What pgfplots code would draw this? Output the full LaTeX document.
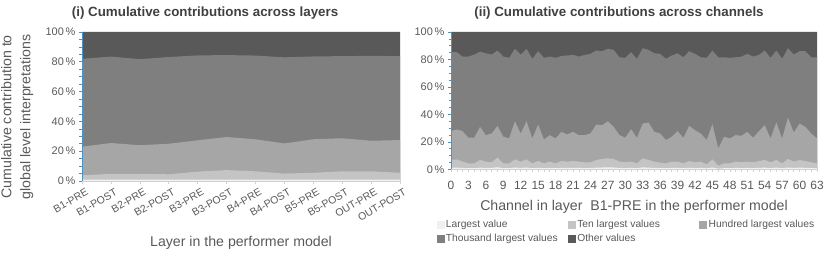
\documentclass[border=0pt]{standalone}
\usepackage{pgfplots}
\pgfplotsset{compat=1.18}
\usepackage{pgfplotstable}
\usepackage{fontspec}
\setmainfont{Liberation Sans}
\definecolor{cL1}{HTML}{F0F0F0}
\definecolor{cL2}{HTML}{C4C4C4}
\definecolor{cL3}{HTML}{A6A6A6}
\definecolor{cL4}{HTML}{7F7F7F}
\definecolor{cL5}{HTML}{595959}
\definecolor{txt}{HTML}{595959}
\definecolor{ttl}{HTML}{404040}
\definecolor{axblue}{HTML}{4F93BF}
\definecolor{tickgray}{HTML}{D0D0D0}

\pgfplotstableread{
x top thou hund ten one
0 100 82.0 23.0 3.8 1.0
1 100 83.5 25.5 4.8 1.0
2 100 81.8 24.0 4.8 1.0
3 100 83.2 25.0 4.5 1.0
4 100 84.3 27.3 6.3 1.0
5 100 84.5 29.5 7.3 1.0
6 100 84.2 28.0 6.5 1.0
7 100 83.0 25.2 5.0 1.0
8 100 83.6 28.0 5.5 1.0
9 100 83.8 28.7 6.5 1.0
10 100 84.0 27.0 6.5 1.0
11 100 83.8 27.5 5.5 1.0
}\layers

\pgfplotstableread{
x top thou hund ten one
0 100 85.3 27.8 6.8 1.2
1 100 85.3 29.0 7.2 1.2
2 100 82.1 27.8 5.6 1.0
3 100 82.1 23.0 4.3 0.8
4 100 83.5 23.0 4.3 0.8
5 100 85.7 30.9 6.8 1.2
6 100 84.5 24.9 5.6 1.0
7 100 83.6 26.1 5.1 1.0
8 100 86.5 31.6 8.5 1.5
9 100 82.1 23.7 4.3 0.8
10 100 81.2 22.5 4.3 0.8
11 100 87.7 35.0 7.2 1.3
12 100 83.6 26.1 5.6 1.0
13 100 87.7 35.0 7.2 1.3
14 100 80.5 22.5 4.3 0.8
15 100 86.0 32.6 6.0 1.1
16 100 81.2 21.7 4.3 0.8
17 100 82.1 24.9 5.6 1.0
18 100 81.2 22.5 4.3 0.8
19 100 82.5 27.3 6.0 1.0
20 100 82.9 25.4 5.6 1.0
21 100 83.3 27.3 6.0 1.0
22 100 82.1 24.9 5.6 1.0
23 100 83.3 24.9 5.1 0.9
24 100 84.1 26.1 5.1 0.9
25 100 86.5 32.6 6.8 1.2
26 100 86.0 32.1 7.5 1.3
27 100 87.7 35.0 8.0 1.4
28 100 87.0 30.9 7.5 1.3
29 100 81.6 24.9 5.6 1.0
30 100 81.2 23.0 5.1 0.9
31 100 85.3 29.2 5.6 1.0
32 100 80.5 22.9 4.3 0.8
33 100 88.2 33.3 8.0 1.4
34 100 87.0 34.1 6.8 1.2
35 100 84.5 27.3 5.6 1.0
36 100 84.1 26.1 4.8 0.9
37 100 80.5 21.3 4.3 0.8
38 100 82.9 23.7 5.6 1.0
39 100 84.5 27.8 5.6 1.0
40 100 81.6 22.9 4.3 0.8
41 100 86.0 31.6 6.0 1.1
42 100 84.1 28.5 5.1 0.9
43 100 81.6 26.1 5.6 1.0
44 100 81.2 21.3 3.6 0.7
45 100 86.5 32.9 7.2 1.3
46 100 81.6 15.2 2.7 0.5
47 100 81.6 23.7 4.3 0.8
48 100 81.2 22.5 4.3 0.8
49 100 81.6 24.9 5.6 1.0
50 100 82.1 24.4 5.1 0.9
51 100 84.1 27.3 5.6 1.0
52 100 82.1 22.9 5.1 0.9
53 100 83.3 27.8 6.0 1.0
54 100 86.5 32.1 6.8 1.2
55 100 81.2 22.5 5.1 0.9
56 100 86.5 34.1 6.8 1.2
57 100 80.5 22.5 4.3 0.8
58 100 88.2 37.7 7.5 1.3
59 100 83.6 26.8 5.6 1.0
60 100 86.0 33.3 6.8 1.2
61 100 86.0 30.9 6.0 1.1
62 100 81.6 26.1 5.1 0.9
63 100 81.6 22.5 4.3 0.8
}\channels

\pgfplotsset{
  common/.style={
    scale only axis, anchor=south west, axis on top,
    ymin=0, ymax=100,
    ytick={0,20,40,60,80,100},
    yticklabels={0\,\%,20\,\%,40\,\%,60\,\%,80\,\%,100\,\%},
    minor ytick={5,10,15,25,30,35,45,50,55,65,70,75,85,90,95},
    axis x line*=bottom, axis y line*=left,
    y axis line style={draw=axblue, line width=0.8bp, -},
    x axis line style={draw=tickgray, -},
    ytick style={draw=axblue, line width=0.6bp},
    xtick style={draw=tickgray, line width=0.6bp},
    tick align=outside,
    major tick length=3bp, minor tick length=2.5bp,
    ticklabel style={font=\fontsize{11}{13}\selectfont, text=txt},
    /pgf/number format/assume math mode=true,
    label style={font=\fontsize{14.2}{19}\selectfont, text=txt},
    title style={font=\fontsize{13.4}{15}\selectfont\bfseries, text=ttl, anchor=center},
    legend image code/.code={\fill[##1] (0bp,-3.5bp) rectangle (7bp,3.5bp);},
  }
}

\begin{document}
\begin{tikzpicture}
\useasboundingbox (0,0) rectangle (830bp,255bp);

\begin{axis}[common,
  at={(82bp,74bp)}, width=318bp, height=149bp,
  xmin=0, xmax=11,
  xtick={0,...,11},
  xticklabels={B1-PRE,B1-POST,B2-PRE,B2-POST,B3-PRE,B3-POST,B4-PRE,B4-POST,B5-PRE,B5-POST,OUT-PRE,OUT-POST},
  xticklabel style={rotate=30, anchor=north east, inner sep=1bp, yshift=-4bp, xshift=2bp, font=\fontsize{10.5}{12}\selectfont},
  title={(i) Cumulative contributions across layers},
  title style={at={(axis description cs:0.387,1)}, yshift=13bp},
  xlabel={Layer in the performer model},
  xlabel style={at={(axis description cs:0.5,0)}, anchor=center, yshift=-62bp},
  ylabel={Cumulative contribution to\\global level interpretations},
  ylabel style={at={(axis description cs:-0.204,0.43)}, anchor=center, align=center},
]
\addplot[fill=cL5, draw=none] table[x=x,y=top] {\layers} \closedcycle;
\addplot[fill=cL4, draw=none] table[x=x,y=thou] {\layers} \closedcycle;
\addplot[fill=cL3, draw=none] table[x=x,y=hund] {\layers} \closedcycle;
\addplot[fill=cL2, draw=none] table[x=x,y=ten] {\layers} \closedcycle;
\addplot[fill=cL1, draw=none] table[x=x,y=one] {\layers} \closedcycle;
\end{axis}

\begin{axis}[common,
  at={(451bp,85.7bp)}, width=366bp, height=137.3bp,
  xmin=0, xmax=63,
  xtick={0,3,...,63},
  minor xtick={0,...,63},
  xticklabel style={yshift=-5bp, font=\fontsize{12}{14}\selectfont},
  title={(ii) Cumulative contributions across channels},
  title style={at={(axis description cs:0.459,1)}, yshift=13bp},
  xlabel={Channel in layer\ \ B1-PRE in the performer model},
  xlabel style={at={(axis description cs:0.5,0)}, anchor=center, yshift=-38bp},
  legend columns=3,
  legend cell align=left,
  legend style={at={(axis description cs:-0.04,-0.352)}, anchor=north west, draw=none, fill=none,
    font=\fontsize{10.3}{12}\selectfont, text=txt, inner sep=0pt, row sep=1.5bp,
    /tikz/every even column/.append style={column sep=0pt}},
]
\addlegendimage{cL1}\addlegendentry{\makebox[120bp][l]{Largest value}}
\addlegendimage{cL2}\addlegendentry{\makebox[120bp][l]{Ten largest values}}
\addlegendimage{cL3}\addlegendentry{\makebox[120bp][l]{Hundred largest values}}
\addlegendimage{cL4}\addlegendentry{\makebox[120bp][l]{Thousand largest values}}
\addlegendimage{cL5}\addlegendentry{\makebox[120bp][l]{Other values}}
\addplot[fill=cL5, draw=none, forget plot] table[x=x,y=top] {\channels} \closedcycle;
\addplot[fill=cL4, draw=none, forget plot] table[x=x,y=thou] {\channels} \closedcycle;
\addplot[fill=cL3, draw=none, forget plot] table[x=x,y=hund] {\channels} \closedcycle;
\addplot[fill=cL2, draw=none, forget plot] table[x=x,y=ten] {\channels} \closedcycle;
\addplot[fill=cL1, draw=none, forget plot] table[x=x,y=one] {\channels} \closedcycle;
\end{axis}
\end{tikzpicture}
\end{document}
